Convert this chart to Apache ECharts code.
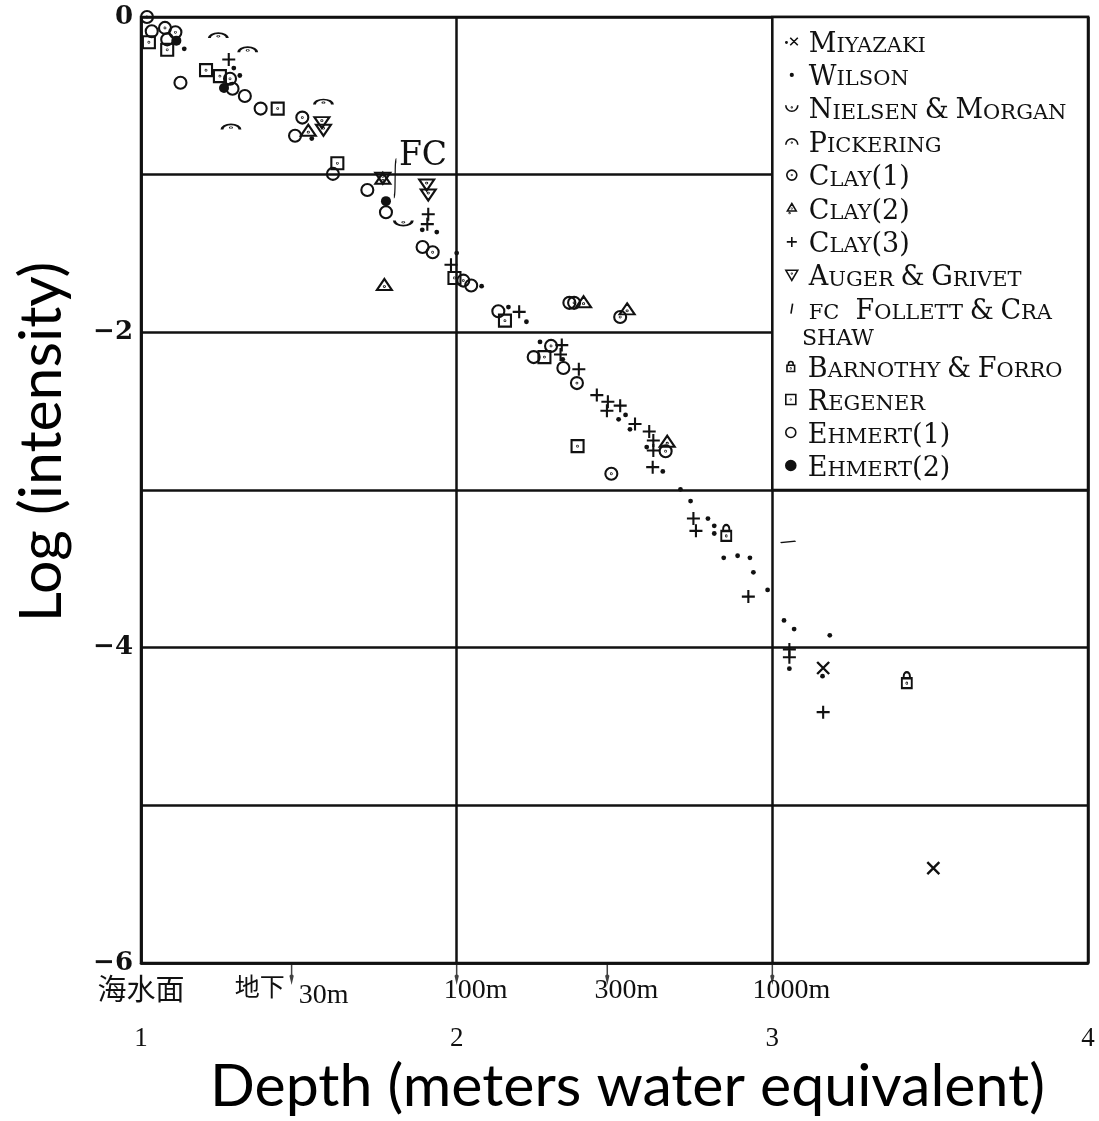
<!DOCTYPE html>
<html>
<head>
<meta charset="utf-8">
<script src="https://cdn.jsdelivr.net/npm/echarts@6/dist/echarts.min.js"></script>
<style>
html,body{margin:0;padding:0;background:#fff;}
#chart{width:1099px;height:1121px;}
</style>
</head>
<body>
<div id="chart"></div>
<script>
// ---------------- data (x = log10 depth [m w.e.], y = log intensity) ----------------
const miyazaki = [[3.161,-4.129],[3.510,-5.398]];
const wilson = [[1.137,-0.202],[1.294,-0.324],[1.313,-0.371],[1.541,-0.771],[1.891,-1.350],[1.937,-1.364],
  [2.000,-1.497],[2.079,-1.707],[2.164,-1.840],[2.221,-1.933],[2.264,-2.061],[2.336,-2.171],[2.535,-2.524],
  [2.513,-2.552],[2.549,-2.615],[2.602,-2.728],[2.653,-2.882],[2.709,-2.996],[2.741,-3.070],[2.796,-3.181],
  [2.816,-3.227],[2.816,-3.276],[2.846,-3.430],[2.890,-3.417],[2.929,-3.430],[2.940,-3.522],[2.985,-3.634],
  [3.037,-3.827],[3.069,-3.882],[3.182,-3.922],[3.054,-4.133],[3.159,-4.181]];
const nielsen = [[1.831,-1.307]];
const pickering = [[1.245,-0.118],[1.338,-0.207],[1.285,-0.697],[1.578,-0.539]];
const clay1 = [[1.019,0.000],[1.076,-0.069],[1.109,-0.097],[1.282,-0.392],[1.511,-0.638],[1.924,-1.492],
  [2.021,-1.672],[2.372,-1.813],[2.518,-1.903],[2.299,-2.086],[2.381,-2.322],[2.662,-2.754],[2.490,-2.897]];
const clay2 = [[1.530,-0.718],[1.766,-1.023],[1.771,-1.697],[2.402,-1.806],[2.540,-1.851],[2.667,-2.691]];
const clay3 = [[1.278,-0.270],[1.910,-1.251],[1.907,-1.314],[1.982,-1.571],[2.198,-1.870],[2.333,-2.081],
  [2.329,-2.141],[2.387,-2.234],[2.444,-2.398],[2.479,-2.440],[2.518,-2.465],[2.476,-2.497],[2.565,-2.581],
  [2.610,-2.629],[2.623,-2.686],[2.623,-2.749],[2.621,-2.855],[2.750,-3.181],[2.758,-3.259],[2.924,-3.676],
  [3.054,-4.011],[3.054,-4.061],[3.161,-4.409]];
const auger = [[1.573,-0.670],[1.578,-0.718],[1.766,-1.023],[1.905,-1.066],[1.910,-1.129]];
const follett = [[1.805,-1.023],[3.050,-3.329]];
const barnothy = [[2.854,-3.272],[3.426,-4.206]];
const regener = [[1.025,-0.160],[1.083,-0.208],[1.206,-0.337],[1.250,-0.375],[1.433,-0.581],[1.622,-0.928],
  [1.993,-1.655],[2.153,-1.926],[2.278,-2.157],[2.383,-2.722]];
const ehmert1 = [[1.034,-0.090],[1.083,-0.142],[1.125,-0.417],[1.290,-0.455],[1.329,-0.501],[1.379,-0.581],
  [1.488,-0.753],[1.608,-0.995],[1.717,-1.097],[1.776,-1.238],[1.892,-1.459],[2.046,-1.703],[2.132,-1.866],
  [2.357,-1.813],[2.244,-2.157],[2.338,-2.226]];
const ehmert2 = [[1.112,-0.150],[1.263,-0.450],[1.776,-1.168]];

const seriesNames = ['MIYAZAKI','WILSON','NIELSEN & MORGAN','PICKERING','CLAY(1)','CLAY(2)','CLAY(3)',
  'AUGER & GRIVET','FOLLETT & CRASHAW','BARNOTHY & FORRO','REGENER','EHMERT(1)','EHMERT(2)'];
const legendLabels = ['MIYAZAKI','WILSON','NIELSEN & MORGAN','PICKERING','CLAY(1)','CLAY(2)','CLAY(3)',
  'AUGER & GRIVET','FOLLETT & CRA','BARNOTHY & FORRO','REGENER','EHMERT(1)','EHMERT(2)'];
const legendSecondLine = 'SHAW';
const fcLabel = 'FC';

const yLabelValues = [0,-2,-4,-6];
const yLabelTexts = ['0','\u22122','\u22124','\u22126'];
const xMainLabels = ['1','2','3','4'];
const depthTickValues = [1.4771, 2, 2.4771, 3];
const depthLabelValues = [1, 1.4771, 2, 2.4771, 3];
const depthLabelTexts = ['海水面', '地下|30m', '100m', '300m', '1000m'];
const legendBox = [[3, 0], [4, -3]];

// ---------------- styling ----------------
const INK = '#111';
const SERIF = 'DejaVu Serif';
const NUMF = 'Liberation Serif';

function circ(cx, cy, r) {
  return `M${cx-r},${cy} A${r},${r} 0 1,1 ${cx+r},${cy} A${r},${r} 0 1,1 ${cx-r},${cy} Z `;
}
const DOT = circ(10, 10, 0.6);
const SYM = {
  cross: 'path://M0,0 L20,20 M20,0 L0,20',
  dot: 'circle',
  cup: 'path://M0,0 A10,10 0 0,0 20,0 ' + circ(10, 3.5, 0.6),
  arch: 'path://M0,10 A10,10 0 0,1 20,10 ' + circ(10, 6.5, 0.6),
  circleDot: 'path://' + circ(10, 10, 10) + DOT,
  triDot: 'path://M10,0 L20,17 L0,17 Z ' + circ(10, 11.5, 0.6),
  plus: 'path://M10,0 L10,20 M0,10 L20,10',
  invTriDot: 'path://M0,0 L20,0 L10,17 Z ' + circ(10, 5.5, 0.6),
  integral: 'path://M10,0 C7,0 6,3 5.5,10 L4.5,30 C4,37 3,40 0,40',
  slash: 'path://M0,5 L18,0',
  lock: 'path://M5,9 L5,6 A5,5 0 0,1 15,6 L15,9 M2,9 L18,9 L18,22 L2,22 Z ' + circ(10, 15.5, 0.6),
  squareDot: 'path://M0,0 L20,0 L20,20 L0,20 Z ' + circ(10, 10, 0.6),
  circle: 'path://' + circ(10, 10, 10),
  filled: 'circle',
  arrow: 'path://M5,0 L5,16 M2,10 L5,16 L8,10'
};
const LEGEND_ICON = {
  'MIYAZAKI': 'path://' + circ(1, 9, 0.7) + 'M5,4 L13,12 M13,4 L5,12',
  'WILSON': 'path://M0,0 L0,0 M20,20 L20,20 ' + circ(10, 10, 2.6),
  'CLAY(2)': 'path://M10,0 L20,17 L0,17 Z ' + circ(10, 11.5, 0.6) + circ(5, 22, 0.8),
  'FOLLETT & CRASHAW': 'path://M4,0 L2,12'
};

const seriesDefs = [
  {data: miyazaki, sym: 'cross', size: 12, fill: 'rgba(0,0,0,0)', bw: 2.4},
  {data: wilson, sym: 'dot', size: 4.8, fill: INK, bw: 0},
  {data: nielsen, sym: 'cup', size: [18, 10], fill: 'rgba(0,0,0,0)', bw: 2.2},
  {data: pickering, sym: 'arch', size: [18, 10], fill: 'rgba(0,0,0,0)', bw: 2.2},
  {data: clay1, sym: 'circleDot', size: 12, fill: 'rgba(0,0,0,0)', bw: 2.1},
  {data: clay2, sym: 'triDot', size: [15, 13], fill: 'rgba(0,0,0,0)', bw: 2.1},
  {data: clay3, sym: 'plus', size: 13, fill: 'rgba(0,0,0,0)', bw: 2.1},
  {data: auger, sym: 'invTriDot', size: [15, 13], fill: 'rgba(0,0,0,0)', bw: 2.1},
  {data: follett, sym: 'integral', size: [10, 36], fill: 'rgba(0,0,0,0)', bw: 2.3},
  {data: barnothy, sym: 'lock', size: [13, 16], fill: 'rgba(0,0,0,0)', bw: 2.1},
  {data: regener, sym: 'squareDot', size: 12, fill: 'rgba(0,0,0,0)', bw: 2.1},
  {data: ehmert1, sym: 'circle', size: 12, fill: 'rgba(0,0,0,0)', bw: 2.1},
  {data: ehmert2, sym: 'filled', size: 10, fill: INK, bw: 0}
];

function smallCaps(str) {
  let out = '';
  const words = str.split(' ');
  words.forEach((w, wi) => {
    let first = true, cur = '', curStyle = '';
    const flush = () => { if (cur) out += `{${curStyle}|${cur}}`; cur = ''; };
    for (const ch of w) {
      const isLetter = /[A-Z]/.test(ch);
      const st = (isLetter && !first) ? 's' : 'b';
      if (isLetter) first = false;
      if (st !== curStyle) { flush(); curStyle = st; }
      cur += ch;
    }
    flush();
    if (wi < words.length - 1) out += '{sp| }';
  });
  return out;
}

const richLegend = {
  b: {fontFamily: SERIF, fontSize: 27, lineHeight: 33, verticalAlign: 'bottom', color: INK},
  s: {fontFamily: SERIF, fontSize: 21, lineHeight: 33, verticalAlign: 'bottom', color: INK, padding: [0, 0, 1, 0]},
  sp: {fontFamily: SERIF, fontSize: 21, lineHeight: 33, verticalAlign: 'bottom'},
  fc: {fontFamily: SERIF, fontSize: 21, lineHeight: 33, verticalAlign: 'bottom', color: INK, padding: [0, 16, 1, 0]}
};

function legendFormatter(name) {
  const i = seriesNames.indexOf(name);
  const txt = smallCaps(legendLabels[i]);
  return name.startsWith('FOLLETT') ? `{fc|${fcLabel}}` + txt : txt;
}
function legendData(names) {
  return names.map(n => LEGEND_ICON[n] ? {name: n, icon: LEGEND_ICON[n]} : {name: n});
}

const series = seriesDefs.map((d, i) => ({
  name: seriesNames[i],
  type: 'scatter',
  clip: false,
  symbol: SYM[d.sym],
  symbolSize: d.size,
  symbolKeepAspect: true,
  itemStyle: {color: d.fill, borderColor: INK, borderWidth: d.bw, opacity: 1},
  emphasis: {disabled: true},
  z: 3,
  data: d.data.map(p => ({value: p}))
}));
// Follett & Crashaw: first mark is the long integral with its "FC" tag, second a short slanted stroke
series[8].data[0].label = {show: true, formatter: fcLabel, position: 'right', distance: 2, offset: [0, -22],
  fontFamily: SERIF, fontSize: 33, color: INK};
series[8].data[1].symbol = SYM.slash;
series[8].data[1].symbolSize = [15, 5];
// white legend panel framed by the grid lines x=3 and y=-3
series.push({
  name: 'legendPanel', type: 'scatter', data: [], silent: true,
  markArea: {
    silent: true, z: 1,
    itemStyle: {color: '#fff', borderColor: INK, borderWidth: 2.5},
    label: {show: false},
    data: [[{coord: legendBox[0]}, {coord: legendBox[1]}]]
  }
});
// small downward arrows marking 30 m, 100 m, 300 m, 1000 m below the axis
series.push({
  name: 'depthArrows', type: 'scatter', silent: true, clip: false, z: 4,
  symbol: SYM.arrow, symbolSize: [8, 17], symbolKeepAspect: true, symbolOffset: [0, 10],
  itemStyle: {color: 'rgba(0,0,0,0)', borderColor: INK, borderWidth: 2.2},
  data: depthTickValues.map(v => [v, -6])
});

function depthLabel(v) {
  let idx = -1;
  depthLabelValues.forEach((dv, i) => { if (Math.abs(dv - v) < 1e-3) idx = i; });
  if (idx < 0) return '';
  const t = depthLabelTexts[idx];
  if (t.indexOf('|') >= 0) {
    const parts = t.split('|');
    return `{cjkt|${parts[0]}}{gap|}{m30|${parts[1]}}`;
  }
  if (/[\u4e00-\u9fff]/.test(t)) return `{cjk|${t}}`;
  return `{m|${t}}`;
}

const legendCommon = {
  orient: 'vertical', left: 785, padding: 0,
  itemWidth: 12, itemHeight: 10, selectedMode: false,
  itemStyle: {borderWidth: 1.6},
  formatter: legendFormatter,
  textStyle: {fontFamily: SERIF, fontSize: 21, lineHeight: 33, color: INK, padding: [0, 0, 0, 6], rich: richLegend}
};

const option = {
  backgroundColor: '#fff',
  animation: false,
  grid: {left: 141, right: 11, top: 17, bottom: 154, show: true, borderColor: INK, borderWidth: 2.5,
    backgroundColor: 'transparent'},
  xAxis: [{
    type: 'value', min: 1, max: 4, interval: 1, position: 'bottom',
    axisLine: {show: true, onZero: false, lineStyle: {color: INK, width: 2.5}},
    axisTick: {show: false},
    splitLine: {show: true, lineStyle: {color: INK, width: 2.5}},
    axisLabel: {margin: 62, fontFamily: NUMF, fontSize: 27, color: INK,
      formatter: v => xMainLabels[Math.round(v) - 1] || ''},
    name: 'Depth (meters water equivalent)', nameLocation: 'middle', nameGap: 94,
    nameTextStyle: {fontFamily: 'Lato', fontSize: 59, color: '#000', padding: [0, 0, 0, 26]}
  }, {
    type: 'value', min: 1, max: 4, position: 'bottom',
    axisLine: {show: false},
    splitLine: {show: false},
    axisTick: {show: false},
    axisLabel: {
      customValues: depthLabelValues, margin: 11, color: INK, formatter: depthLabel,
      rich: {
        cjk: {fontFamily: 'Noto Sans CJK SC', fontSize: 29, lineHeight: 34, verticalAlign: 'top', color: INK},
        cjkt: {fontFamily: 'Noto Sans CJK SC', fontSize: 25, lineHeight: 34, verticalAlign: 'top', color: INK},
        gap: {width: 14, lineHeight: 34},
        m: {fontFamily: NUMF, fontSize: 28, lineHeight: 34, verticalAlign: 'middle', color: INK, padding: [0, 0, 0, 38]},
        m30: {fontFamily: NUMF, fontSize: 28, lineHeight: 36, verticalAlign: 'bottom', color: INK}
      }
    }
  }],
  yAxis: {
    type: 'value', min: -6, max: 0, interval: 1,
    axisLine: {show: true, onZero: false, lineStyle: {color: INK, width: 2.5}},
    axisTick: {show: false},
    splitLine: {show: true, lineStyle: {color: INK, width: 2.5}},
    axisLabel: {customValues: yLabelValues, margin: 8, fontFamily: SERIF, fontWeight: 'bold', fontSize: 26, color: INK,
      formatter: v => { const i = yLabelValues.indexOf(Math.round(v)); return i >= 0 ? yLabelTexts[i] : ''; }},
    name: 'Log (intensity)', nameLocation: 'middle', nameGap: 70,
    nameTextStyle: {fontFamily: 'Lato', fontSize: 59, color: '#000', padding: [0, 0, 0, 96]}
  },
  legend: [
    Object.assign({}, legendCommon, {data: legendData(seriesNames.slice(0, 9)), top: 25, itemGap: 0.4}),
    Object.assign({}, legendCommon, {data: legendData(seriesNames.slice(9)), top: 350, itemGap: 0})
  ],
  graphic: [{
    type: 'text', left: 802, top: 328, z: 10,
    style: {text: legendSecondLine, font: '22px "DejaVu Serif"', fill: INK}
  }],
  series: series
};

const chart = echarts.init(document.getElementById('chart'), null, {renderer: 'canvas'});
chart.setOption(option);
</script>
</body>
</html>
